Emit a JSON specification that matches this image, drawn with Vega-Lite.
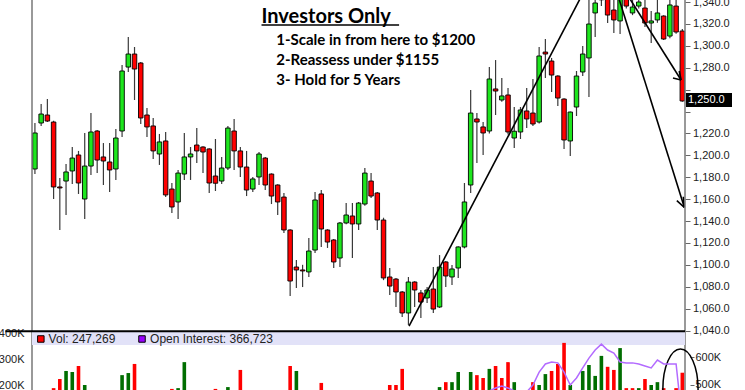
{
  "$schema": "https://vega.github.io/schema/vega-lite/v6.json",
  "width": 663,
  "height": 390,
  "autosize": "none",
  "padding": {"left": 27, "right": 55, "top": 0, "bottom": 0},
  "background": "white",
  "config": {"view": {"stroke": null}, "axis": {"labelOverlap": false, "labelSeparation": 0, "labelBound": false}},
  "datasets": {
    "d": [
      {"i":0,"o":1187.5,"h":1229.5,"l":1182.9,"c":1220.4,"v":150000,"vd":"u"},
      {"i":1,"o":1229.5,"h":1246.8,"l":1226.8,"c":1237.7,"v":140000,"vd":"u"},
      {"i":2,"o":1236.8,"h":1251.4,"l":1230.4,"c":1231.3,"v":160000,"vd":"d"},
      {"i":3,"o":1230.4,"h":1231.5,"l":1160.1,"c":1171.1,"v":188000,"vd":"d"},
      {"i":4,"o":1171.1,"h":1179.3,"l":1131.8,"c":1170.2,"v":223000,"vd":"d"},
      {"i":5,"o":1176.5,"h":1192.1,"l":1145.5,"c":1184.8,"v":254000,"vd":"u"},
      {"i":6,"o":1185.7,"h":1207.6,"l":1173.8,"c":1197.5,"v":250000,"vd":"u"},
      {"i":7,"o":1200.3,"h":1204.0,"l":1164.7,"c":1174.7,"v":273000,"vd":"d"},
      {"i":8,"o":1160.1,"h":1220.4,"l":1141.8,"c":1190.2,"v":200000,"vd":"u"},
      {"i":9,"o":1190.2,"h":1238.6,"l":1182.0,"c":1221.3,"v":170000,"vd":"u"},
      {"i":10,"o":1222.2,"h":1223.0,"l":1183.8,"c":1195.7,"v":160000,"vd":"d"},
      {"i":11,"o":1198.5,"h":1211.2,"l":1172.9,"c":1194.8,"v":150000,"vd":"d"},
      {"i":12,"o":1193.9,"h":1211.2,"l":1166.5,"c":1186.6,"v":140000,"vd":"d"},
      {"i":13,"o":1187.5,"h":1224.0,"l":1177.5,"c":1215.8,"v":170000,"vd":"u"},
      {"i":14,"o":1222.2,"h":1282.5,"l":1216.7,"c":1277.0,"v":238000,"vd":"u"},
      {"i":15,"o":1280.6,"h":1308.0,"l":1276.1,"c":1292.5,"v":246000,"vd":"u"},
      {"i":16,"o":1292.5,"h":1298.9,"l":1250.5,"c":1278.8,"v":281000,"vd":"d"},
      {"i":17,"o":1284.3,"h":1285.2,"l":1228.6,"c":1234.1,"v":180000,"vd":"d"},
      {"i":18,"o":1236.8,"h":1243.2,"l":1216.7,"c":1225.9,"v":150000,"vd":"d"},
      {"i":19,"o":1226.8,"h":1234.1,"l":1196.6,"c":1204.0,"v":160000,"vd":"d"},
      {"i":20,"o":1201.2,"h":1219.5,"l":1191.2,"c":1212.2,"v":140000,"vd":"u"},
      {"i":21,"o":1213.1,"h":1221.3,"l":1161.9,"c":1163.8,"v":175000,"vd":"d"},
      {"i":22,"o":1169.2,"h":1174.7,"l":1147.3,"c":1152.8,"v":185000,"vd":"d"},
      {"i":23,"o":1157.4,"h":1186.6,"l":1141.8,"c":1183.8,"v":188000,"vd":"u"},
      {"i":24,"o":1182.9,"h":1220.4,"l":1177.5,"c":1198.5,"v":288000,"vd":"u"},
      {"i":25,"o":1198.5,"h":1207.6,"l":1177.5,"c":1201.2,"v":150000,"vd":"u"},
      {"i":26,"o":1209.4,"h":1224.9,"l":1193.0,"c":1204.0,"v":140000,"vd":"u"},
      {"i":27,"o":1207.6,"h":1208.2,"l":1183.8,"c":1203.0,"v":130000,"vd":"d"},
      {"i":28,"o":1205.8,"h":1206.5,"l":1165.6,"c":1174.7,"v":160000,"vd":"d"},
      {"i":29,"o":1181.1,"h":1214.9,"l":1167.4,"c":1174.5,"v":185000,"vd":"d"},
      {"i":30,"o":1176.5,"h":1198.5,"l":1173.8,"c":1188.4,"v":150000,"vd":"u"},
      {"i":31,"o":1188.4,"h":1226.8,"l":1186.6,"c":1224.9,"v":192000,"vd":"u"},
      {"i":32,"o":1222.2,"h":1233.2,"l":1186.6,"c":1204.0,"v":175000,"vd":"d"},
      {"i":33,"o":1204.0,"h":1207.6,"l":1180.2,"c":1189.3,"v":258000,"vd":"d"},
      {"i":34,"o":1189.3,"h":1204.0,"l":1162.8,"c":1168.3,"v":170000,"vd":"d"},
      {"i":35,"o":1169.2,"h":1180.2,"l":1166.5,"c":1178.4,"v":140000,"vd":"u"},
      {"i":36,"o":1180.2,"h":1203.0,"l":1172.9,"c":1201.2,"v":160000,"vd":"u"},
      {"i":37,"o":1197.5,"h":1198.5,"l":1168.3,"c":1172.9,"v":150000,"vd":"d"},
      {"i":38,"o":1182.9,"h":1183.5,"l":1155.5,"c":1162.8,"v":160000,"vd":"d"},
      {"i":39,"o":1172.9,"h":1173.5,"l":1145.5,"c":1157.4,"v":170000,"vd":"d"},
      {"i":40,"o":1161.9,"h":1165.6,"l":1129.0,"c":1131.8,"v":180000,"vd":"d"},
      {"i":41,"o":1131.8,"h":1132.5,"l":1071.5,"c":1085.2,"v":273000,"vd":"d"},
      {"i":42,"o":1098.0,"h":1104.4,"l":1078.8,"c":1095.3,"v":254000,"vd":"u"},
      {"i":43,"o":1095.3,"h":1100.0,"l":1079.7,"c":1094.4,"v":150000,"vd":"d"},
      {"i":44,"o":1093.5,"h":1124.5,"l":1088.9,"c":1112.6,"v":170000,"vd":"u"},
      {"i":45,"o":1113.5,"h":1166.5,"l":1110.8,"c":1159.2,"v":180000,"vd":"u"},
      {"i":46,"o":1164.7,"h":1168.3,"l":1116.3,"c":1132.7,"v":208000,"vd":"d"},
      {"i":47,"o":1131.8,"h":1132.5,"l":1115.4,"c":1120.8,"v":150000,"vd":"d"},
      {"i":48,"o":1122.7,"h":1123.5,"l":1097.1,"c":1102.6,"v":160000,"vd":"d"},
      {"i":49,"o":1106.2,"h":1139.0,"l":1098.0,"c":1138.2,"v":170000,"vd":"u"},
      {"i":50,"o":1138.2,"h":1156.4,"l":1137.0,"c":1145.5,"v":150000,"vd":"u"},
      {"i":51,"o":1144.6,"h":1156.4,"l":1106.2,"c":1137.3,"v":160000,"vd":"d"},
      {"i":52,"o":1137.3,"h":1157.4,"l":1131.8,"c":1156.4,"v":150000,"vd":"u"},
      {"i":53,"o":1155.5,"h":1188.4,"l":1154.0,"c":1183.8,"v":170000,"vd":"u"},
      {"i":54,"o":1176.5,"h":1183.8,"l":1161.0,"c":1162.8,"v":160000,"vd":"d"},
      {"i":55,"o":1165.6,"h":1166.5,"l":1131.8,"c":1140.9,"v":175000,"vd":"d"},
      {"i":56,"o":1140.9,"h":1143.0,"l":1086.0,"c":1088.0,"v":180000,"vd":"d"},
      {"i":57,"o":1088.9,"h":1097.1,"l":1072.4,"c":1080.6,"v":200000,"vd":"d"},
      {"i":58,"o":1087.0,"h":1088.0,"l":1061.5,"c":1075.2,"v":200000,"vd":"d"},
      {"i":59,"o":1075.2,"h":1076.0,"l":1052.3,"c":1056.0,"v":262000,"vd":"d"},
      {"i":60,"o":1056.0,"h":1088.9,"l":1045.0,"c":1084.3,"v":180000,"vd":"u"},
      {"i":61,"o":1084.3,"h":1085.0,"l":1061.5,"c":1077.0,"v":150000,"vd":"d"},
      {"i":62,"o":1074.3,"h":1077.0,"l":1051.4,"c":1066.0,"v":160000,"vd":"d"},
      {"i":63,"o":1069.7,"h":1079.7,"l":1065.1,"c":1077.0,"v":140000,"vd":"u"},
      {"i":64,"o":1077.9,"h":1098.0,"l":1056.0,"c":1059.6,"v":170000,"vd":"d"},
      {"i":65,"o":1061.5,"h":1108.9,"l":1060.6,"c":1098.0,"v":192000,"vd":"u"},
      {"i":66,"o":1102.6,"h":1103.5,"l":1079.7,"c":1089.8,"v":211000,"vd":"d"},
      {"i":67,"o":1088.9,"h":1099.8,"l":1081.6,"c":1096.2,"v":211000,"vd":"u"},
      {"i":68,"o":1097.1,"h":1117.0,"l":1088.0,"c":1116.3,"v":250000,"vd":"u","oi":411000},
      {"i":69,"o":1116.3,"h":1174.7,"l":1115.0,"c":1157.4,"v":180000,"vd":"u","oi":429000},
      {"i":70,"o":1172.9,"h":1259.6,"l":1165.6,"c":1238.6,"v":250000,"vd":"u","oi":446000},
      {"i":71,"o":1233.2,"h":1238.6,"l":1193.0,"c":1230.4,"v":238000,"vd":"d","oi":461000},
      {"i":72,"o":1225.9,"h":1230.4,"l":1200.3,"c":1220.4,"v":227000,"vd":"d","oi":471000},
      {"i":73,"o":1222.2,"h":1280.6,"l":1220.0,"c":1269.7,"v":262000,"vd":"u","oi":479000},
      {"i":74,"o":1260.6,"h":1287.0,"l":1236.8,"c":1258.7,"v":273000,"vd":"d","oi":489000},
      {"i":75,"o":1250.5,"h":1270.6,"l":1249.0,"c":1254.2,"v":227000,"vd":"d","oi":496000},
      {"i":76,"o":1255.1,"h":1261.5,"l":1219.0,"c":1221.3,"v":288000,"vd":"d","oi":489000},
      {"i":77,"o":1215.8,"h":1244.1,"l":1206.7,"c":1222.0,"v":211000,"vd":"u","oi":479000},
      {"i":78,"o":1221.3,"h":1244.1,"l":1214.9,"c":1241.4,"v":170000,"vd":"u","oi":468000},
      {"i":79,"o":1240.5,"h":1261.5,"l":1224.9,"c":1233.2,"v":175000,"vd":"d","oi":475000},
      {"i":80,"o":1238.6,"h":1269.7,"l":1226.8,"c":1228.6,"v":211000,"vd":"d","oi":500000},
      {"i":81,"o":1230.4,"h":1298.9,"l":1229.0,"c":1290.7,"v":200000,"vd":"u","oi":546000},
      {"i":82,"o":1294.3,"h":1306.2,"l":1270.6,"c":1292.5,"v":242000,"vd":"u","oi":575000},
      {"i":83,"o":1286.1,"h":1288.9,"l":1257.8,"c":1273.3,"v":254000,"vd":"d","oi":582000},
      {"i":84,"o":1272.4,"h":1273.0,"l":1245.0,"c":1252.3,"v":281000,"vd":"d","oi":579000},
      {"i":85,"o":1251.4,"h":1252.0,"l":1205.8,"c":1214.0,"v":362000,"vd":"d","oi":546000},
      {"i":86,"o":1213.1,"h":1240.0,"l":1199.4,"c":1239.5,"v":200000,"vd":"u","oi":500000},
      {"i":87,"o":1244.1,"h":1277.0,"l":1235.9,"c":1272.4,"v":180000,"vd":"u","oi":525000},
      {"i":88,"o":1276.1,"h":1299.8,"l":1272.4,"c":1292.5,"v":254000,"vd":"u","oi":561000},
      {"i":89,"o":1288.9,"h":1345.0,"l":1253.2,"c":1319.9,"v":277000,"vd":"u","oi":596000},
      {"i":90,"o":1330.0,"h":1348.0,"l":1308.0,"c":1339.1,"v":235000,"vd":"u","oi":625000},
      {"i":91,"o":1342.0,"h":1356.0,"l":1336.3,"c":1350.0,"v":312000,"vd":"u","oi":646000},
      {"i":92,"o":1350.0,"h":1360.0,"l":1320.8,"c":1328.1,"v":270000,"vd":"d","oi":625000},
      {"i":93,"o":1332.7,"h":1345.0,"l":1311.7,"c":1323.6,"v":258000,"vd":"d","oi":614000},
      {"i":94,"o":1322.7,"h":1352.0,"l":1310.8,"c":1345.0,"v":342000,"vd":"u","oi":582000},
      {"i":95,"o":1348.0,"h":1352.0,"l":1334.0,"c":1336.3,"v":188000,"vd":"d","oi":579000},
      {"i":96,"o":1330.0,"h":1345.0,"l":1328.0,"c":1335.4,"v":188000,"vd":"d","oi":579000},
      {"i":97,"o":1336.3,"h":1348.0,"l":1334.0,"c":1340.0,"v":188000,"vd":"u","oi":575000},
      {"i":98,"o":1334.5,"h":1345.0,"l":1317.2,"c":1320.8,"v":223000,"vd":"d","oi":568000},
      {"i":99,"o":1320.8,"h":1331.8,"l":1302.6,"c":1322.7,"v":200000,"vd":"u","oi":561000},
      {"i":100,"o":1323.6,"h":1342.0,"l":1321.0,"c":1330.0,"v":211000,"vd":"u","oi":589000},
      {"i":101,"o":1327.2,"h":1328.0,"l":1305.3,"c":1306.2,"v":188000,"vd":"d","oi":575000},
      {"i":102,"o":1308.9,"h":1346.0,"l":1307.0,"c":1337.3,"v":170000,"vd":"u","oi":575000},
      {"i":103,"o":1336.3,"h":1346.0,"l":1311.0,"c":1312.6,"v":188000,"vd":"d","oi":575000},
      {"i":104,"o":1313.5,"h":1315.4,"l":1249.0,"c":1249.6,"v":247269,"vd":"d","oi":366723}
    ],
    "seg": [
      {"i1":60.1,"p1":1044.1,"i2":88.9,"p2":1357.4},
      {"i1":92.88,"p1":1360.1,"i2":104.32,"p2":1152.5},
      {"i1":103.12,"p1":1158.6,"i2":104.32,"p2":1152.5},
      {"i1":104.16,"p1":1162.2,"i2":104.32,"p2":1152.5},
      {"i1":93.67,"p1":1360.1,"i2":103.8,"p2":1268.8},
      {"i1":102.5,"p1":1270.6,"i2":103.8,"p2":1268.8},
      {"i1":103.5,"p1":1277.0,"i2":103.8,"p2":1268.8},
      {"i1":36.4,"p1":1319.0,"i2":58.5,"p2":1319.0}
    ]
  },
  "layer": [
    {
      "layer": [
        {
          "data": {"name": "d"},
          "mark": {"type": "rule", "color": "#3a3a3a", "strokeWidth": 1.2, "clip": true},
          "encoding": {
            "x": {"field": "i", "type": "quantitative", "scale": {"domain": [-0.47, 104.43], "nice": false, "zero": false}, "axis": null},
            "y": {"field": "l", "type": "quantitative", "title": null,
              "scale": {"domain": [1039.56, 1341.83], "range": [331, 0], "nice": false, "zero": false},
              "axis": {"orient": "right", "values": [1040,1060,1080,1100,1120,1140,1160,1180,1200,1220,1240,1260,1280,1300,1320,1340],
                "tickCount": 30,
                "labelExpr": "datum.value==1240||datum.value==1260?'':format(datum.value,',.1f')",
                "domain": false, "grid": false, "tickSize": -5, "tickColor": "#666", "labelPadding": 7.5,
                "labelFont": "Liberation Sans", "labelFontSize": 11, "labelColor": "#222", "labelOverlap": false, "labelSeparation": 0}},
            "y2": {"field": "h"}
          }
        },
        {
          "data": {"name": "d"},
          "mark": {"type": "bar", "size": 4.5, "stroke": "black", "strokeWidth": 0.9, "clip": true},
          "encoding": {
            "x": {"field": "i", "type": "quantitative"},
            "y": {"field": "o", "type": "quantitative"},
            "y2": {"field": "c"},
            "fill": {"condition": {"test": "datum.c > datum.o", "value": "#1ee61e"}, "value": "#ff0000"}
          }
        },
        {
          "data": {"name": "seg"},
          "mark": {"type": "rule", "color": "black", "strokeWidth": 1.6, "clip": true},
          "encoding": {
            "x": {"field": "i1", "type": "quantitative"},
            "x2": {"field": "i2"},
            "y": {"field": "p1", "type": "quantitative"},
            "y2": {"field": "p2"}
          }
        },
        {
          "data": {"values": [{"i": 36.4, "p": 1326.5, "t": "Investors Only"}]},
          "mark": {"type": "text", "align": "left", "baseline": "middle", "font": "Lato", "fontWeight": "bold", "fontSize": 20, "color": "black"},
          "encoding": {
            "x": {"field": "i", "type": "quantitative"},
            "y": {"field": "p", "type": "quantitative"},
            "text": {"field": "t"}
          }
        },
        {
          "data": {"values": [
            {"i": 38.77, "p": 1305.3, "t": "1-Scale in from here to $1200"},
            {"i": 38.77, "p": 1287.0, "t": "2-Reassess under $1155"},
            {"i": 38.77, "p": 1268.8, "t": "3- Hold for 5 Years"}
          ]},
          "mark": {"type": "text", "align": "left", "baseline": "middle", "font": "Lato", "fontWeight": "bold", "fontSize": 15, "color": "black"},
          "encoding": {
            "x": {"field": "i", "type": "quantitative"},
            "y": {"field": "p", "type": "quantitative"},
            "text": {"field": "t"}
          }
        },
        {
          "data": {"values": [{"i": -0.47}, {"i": 104.43}]},
          "mark": {"type": "rule", "color": "#777", "strokeWidth": 1.5},
          "encoding": {"x": {"field": "i", "type": "quantitative"}}
        },
        {
          "data": {"values": [{"i": 104.43, "p": 1250.5, "t": "1,250.0"}]},
          "mark": {"type": "point", "shape": "M 0.04 -0.28 L 1.88 -0.28 L 1.88 0.28 L 0.04 0.28 Z", "size": 2500, "filled": true, "color": "black", "opacity": 1, "clip": false},
          "encoding": {
            "x": {"field": "i", "type": "quantitative"},
            "y": {"field": "p", "type": "quantitative"}
          }
        },
        {
          "data": {"values": [{"i": 104.43, "p": 1250.5, "t": "1,250.0"}]},
          "mark": {"type": "text", "align": "left", "baseline": "middle", "dx": 3, "font": "Liberation Sans", "fontSize": 11, "color": "white", "clip": false},
          "encoding": {
            "x": {"field": "i", "type": "quantitative"},
            "y": {"field": "p", "type": "quantitative"},
            "text": {"field": "t"}
          }
        }
      ]
    },
    {
      "layer": [
        {
          "data": {"values": [{"x1": -0.47, "x2": 104.43, "y1": 353800, "y2": 403900}]},
          "mark": {"type": "rect", "color": "#e2e2f8"},
          "encoding": {
            "x": {"field": "x1", "type": "quantitative"},
            "x2": {"field": "x2"},
            "y": {"field": "y1", "type": "quantitative", "title": null,
              "scale": {"domain": [180800, 407700], "range": [390, 331], "nice": false, "zero": false},
              "axis": {"orient": "left", "values": [200000, 300000, 400000],
                "labelExpr": "format(datum.value/1000,'d')+'K'",
                "domain": false, "grid": false, "ticks": false, "labelPadding": 3,
                "labelFont": "Liberation Sans", "labelFontSize": 11, "labelColor": "#222"}},
            "y2": {"field": "y2"}
          }
        },
        {
          "data": {"name": "d"},
          "mark": {"type": "bar", "size": 3.6, "clip": true},
          "encoding": {
            "x": {"field": "i", "type": "quantitative"},
            "y": {"field": "v", "type": "quantitative"},
            "color": {"field": "vd", "type": "nominal", "scale": {"domain": ["u", "d"], "range": ["#006e00", "#ff0000"]}, "legend": null}
          }
        },
        {
          "data": {"values": [{"x1": -4.75, "x2": 104.43, "y": 407000}]},
          "mark": {"type": "rule", "color": "black", "strokeWidth": 2, "clip": false},
          "encoding": {
            "x": {"field": "x1", "type": "quantitative"},
            "x2": {"field": "x2"},
            "y": {"field": "y", "type": "quantitative"}
          }
        },
        {
          "data": {"values": [
            {"i": 0.95, "v": 377000, "k": "vol", "ti": 2.2, "t": "Vol: 247,269"},
            {"i": 17.2, "v": 377000, "k": "oi", "ti": 18.5, "t": "Open Interest: 366,723"}
          ]},
          "layer": [
            {
              "mark": {"type": "point", "shape": "square", "size": 42, "filled": true, "stroke": "black", "strokeWidth": 1, "opacity": 1},
              "encoding": {
                "x": {"field": "i", "type": "quantitative"},
                "y": {"field": "v", "type": "quantitative"},
                "fill": {"field": "k", "type": "nominal", "scale": {"domain": ["vol", "oi"], "range": ["#ff0000", "#9900ff"]}, "legend": null}
              }
            },
            {
              "mark": {"type": "text", "align": "left", "baseline": "middle", "font": "Liberation Sans", "fontSize": 12, "color": "#222"},
              "encoding": {
                "x": {"field": "ti", "type": "quantitative"},
                "y": {"field": "v", "type": "quantitative"},
                "text": {"field": "t"}
              }
            }
          ]
        },
        {
          "data": {"values": [{"i": 103.7, "v": 184400}]},
          "mark": {"type": "point", "shape": "M 0 -1 A 0.44 1 0 1 1 0 1 A 0.44 1 0 1 1 0 -1 Z", "size": 6400, "filled": false, "color": "black", "strokeWidth": 1.5, "opacity": 1, "clip": false},
          "encoding": {
            "x": {"field": "i", "type": "quantitative"},
            "y": {"field": "v", "type": "quantitative"}
          }
        }
      ]
    },
    {
      "data": {"name": "d"},
      "mark": {"type": "line", "color": "#b36bff", "strokeWidth": 1.5, "clip": true},
      "encoding": {
        "x": {"field": "i", "type": "quantitative"},
        "y": {"field": "oi", "type": "quantitative", "title": null,
          "scale": {"domain": [482100, 692900], "range": [390, 331], "nice": false, "zero": false},
          "axis": {"orient": "right", "values": [500000, 600000, 700000],
            "labelExpr": "format(datum.value/1000,'d')+'K'",
            "domain": false, "grid": false, "tickSize": 4, "tickColor": "#666", "labelPadding": 1,
            "labelFont": "Liberation Sans", "labelFontSize": 11, "labelColor": "#222"}}
      }
    }
  ],
  "resolve": {"scale": {"y": "independent"}, "axis": {"y": "independent"}}
}
